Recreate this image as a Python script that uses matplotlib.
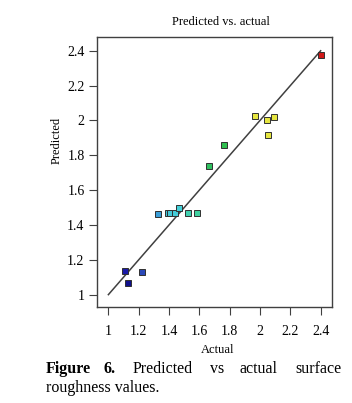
import matplotlib
matplotlib.use('Agg')
import matplotlib.pyplot as plt

plt.rcParams['font.family'] = 'Liberation Serif'

# data
actual = [1.11, 1.13, 1.224, 1.328, 1.392, 1.407, 1.44, 1.465, 1.524, 1.585,
          1.665, 1.762, 1.964, 2.043, 2.092, 2.054, 2.40]
predicted = [1.138, 1.067, 1.129, 1.463, 1.471, 1.471, 1.471, 1.499, 1.471, 1.471,
             1.739, 1.859, 2.025, 2.002, 2.018, 1.916, 2.375]
point_colors = ['#1a1aa8', '#10108c', '#2a48b8', '#3a9ed8', '#44c4d8', '#44c8d8', '#44ccd8',
                '#44d0d8', '#40d0b0', '#40d0a0', '#30c060', '#30c050', '#e6e640', '#e6e640',
                '#e6e640', '#e6e640', '#d01818']
ticks = [1, 1.2, 1.4, 1.6, 1.8, 2, 2.2, 2.4]
tick_labels = ['1', '1.2', '1.4', '1.6', '1.8', '2', '2.2', '2.4']

fig = plt.figure(figsize=(3.52, 4.03), dpi=100)
ax = fig.add_axes([0.2756, 0.2382, 0.6676, 0.670])

ax.plot([1, 2.4], [1, 2.4], color='#404040', lw=1.1, zorder=2)
for x, y, c in zip(actual, predicted, point_colors):
    ax.plot(x, y, 's', ms=5, mfc=c, mec='#303030', mew=0.7, zorder=3)

ax.set_xlim(0.925, 2.475)
ax.set_ylim(0.929, 2.479)
ax.set_xticks(ticks)
ax.set_xticklabels(tick_labels)
ax.set_yticks(ticks)
ax.set_yticklabels(tick_labels)
ax.tick_params(labelsize=10, length=6, width=0.8, color='#404040', pad=7)
ax.tick_params(axis='y', pad=3)
for s in ax.spines.values():
    s.set_color('#404040')
    s.set_linewidth(1.0)

fig.text(0.628, 0.945, 'Predicted vs. actual', ha='center', va='center', fontsize=9)
fig.text(0.617, 0.132, 'Actual', ha='center', va='center', fontsize=9)
fig.text(0.162, 0.652, 'Predicted', ha='center', va='center', rotation=90, fontsize=9)

# justified caption
y1 = 1 - 369 / 403
fs = 11.5
fig.text(46 / 352, y1, 'Figure', ha='left', va='center', fontsize=fs, fontweight='bold')
fig.text(103 / 352, y1, '6.', ha='left', va='center', fontsize=fs, fontweight='bold')
fig.text(133 / 352, y1, 'Predicted', ha='left', va='center', fontsize=fs)
fig.text(210 / 352, y1, 'vs', ha='left', va='center', fontsize=fs)
fig.text(240 / 352, y1, 'actual', ha='left', va='center', fontsize=fs)
fig.text(341 / 352, y1, 'surface', ha='right', va='center', fontsize=fs)
fig.text(46 / 352, 1 - 388 / 403, 'roughness values.', ha='left', va='center', fontsize=fs)

fig.savefig('out.png', dpi=100)
